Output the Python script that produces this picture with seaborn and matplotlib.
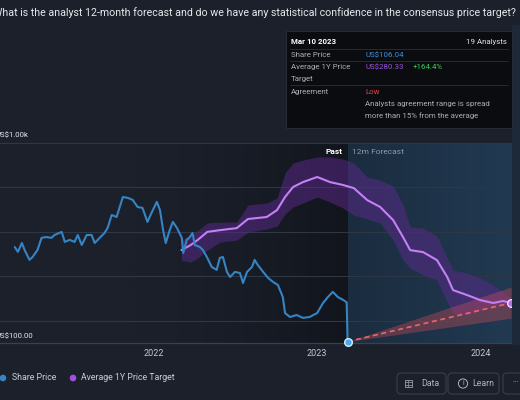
import numpy as np
import pandas as pd
import seaborn as sns
import matplotlib.pyplot as plt
from matplotlib.patches import FancyBboxPatch, Rectangle, Circle

# share price history
price_dates = ["2021-02-23", "2021-03-02", "2021-03-11", "2021-03-17", "2021-03-28", "2021-04-04",
               "2021-04-15", "2021-04-24", "2021-05-05", "2021-05-16", "2021-05-23", "2021-06-08",
               "2021-06-15", "2021-06-26", "2021-07-07", "2021-07-14", "2021-07-23", "2021-08-03",
               "2021-08-14", "2021-08-21", "2021-09-01", "2021-09-12", "2021-09-19", "2021-09-28",
               "2021-10-09", "2021-10-16", "2021-10-23", "2021-11-03", "2021-11-14", "2021-11-25",
               "2021-12-06", "2021-12-17", "2021-12-26", "2022-01-07", "2022-01-14", "2022-01-21",
               "2022-01-27", "2022-02-05", "2022-02-12", "2022-02-21", "2022-03-04", "2022-03-07",
               "2022-03-15", "2022-03-22", "2022-03-28", "2022-04-02", "2022-04-13", "2022-04-20",
               "2022-04-29", "2022-05-10", "2022-05-21", "2022-05-28", "2022-06-04", "2022-06-13",
               "2022-06-20", "2022-07-01", "2022-07-12", "2022-07-19", "2022-07-28", "2022-08-08",
               "2022-08-14", "2022-08-21", "2022-09-02", "2022-09-13", "2022-09-24", "2022-10-05",
               "2022-10-16", "2022-10-21", "2022-11-01", "2022-11-16", "2022-11-30", "2022-12-15",
               "2023-01-01", "2023-01-14", "2023-01-25", "2023-02-05", "2023-02-16", "2023-02-28",
               "2023-03-08", "2023-03-10"]
price_values = [532, 510, 550, 519, 474, 487, 519, 573, 577, 573, 586, 600,
                555, 564, 555, 586, 541, 586, 586, 550, 573, 595, 618, 676,
                667, 712, 757, 753, 744, 712, 708, 645, 685, 735, 699, 609,
                550, 609, 645, 618, 573, 505, 564, 577, 595, 541, 532, 519,
                487, 442, 429, 483, 487, 420, 397, 420, 415, 370, 420, 442,
                474, 451, 420, 393, 375, 361, 307, 235, 217, 226, 213, 217,
                235, 280, 307, 330, 307, 294, 283, 106.04]

# average 1Y price target, plotted 12 months ahead
target_dates = ["2022-03-03", "2022-03-24", "2022-04-08", "2022-04-30", "2022-05-29", "2022-07-05",
                "2022-07-30", "2022-09-10", "2022-10-03", "2022-10-21", "2022-11-08", "2022-11-30",
                "2023-01-01", "2023-01-30", "2023-02-28", "2023-03-24", "2023-04-23", "2023-05-22",
                "2023-06-20", "2023-07-12", "2023-07-28", "2023-08-26", "2023-09-26", "2023-10-19",
                "2023-11-01", "2023-12-02", "2024-01-01", "2024-01-30", "2024-02-21", "2024-03-10"]
target_avg = [518, 541, 563, 600, 608, 617, 658, 667, 698, 757, 802, 824,
              847, 824, 811, 797, 743, 712, 653, 577, 518, 509, 473, 397,
              338, 316, 293, 280, 289, 280.33]
target_high = [563, 586, 604, 640, 644, 644, 721, 730, 752, 865, 910, 923,
               937, 937, 928, 910, 847, 833, 806, 721, 622, 617, 581, 482,
               428, 415, 392, 361, 329, 302]
target_low = [473, 464, 482, 518, 554, 563, 599, 613, 626, 680, 712, 730,
              757, 734, 707, 676, 658, 640, 563, 473, 437, 406, 383, 284,
              235, 226, 248, 262, 271, 271]

# 12m forecast cone
cone_dates = ["2023-03-10", "2024-03-10"]
cone_mid = [106.04, 280.33]
cone_high = [106.04, 352]
cone_low = [106.04, 212]

year_ticks = ["2022-01-01", "2023-01-01", "2024-01-01"]
year_labels = ["2022", "2023", "2024"]
grid_levels = [200, 400, 600, 800, 1000]

BG = "#1b202b"
BLUE = "#3584c4"
PURPLE = "#c57ff7"

price = pd.DataFrame({"date": pd.to_datetime(price_dates), "value": price_values})
target = pd.DataFrame({"date": pd.to_datetime(target_dates), "avg": target_avg,
                       "high": target_high, "low": target_low})
cone = pd.DataFrame({"date": pd.to_datetime(cone_dates), "mid": cone_mid,
                     "high": cone_high, "low": cone_low})

sns.set_theme(style="dark", rc={"figure.facecolor": BG, "axes.facecolor": BG})
plt.rcParams["font.family"] = ["Roboto", "DejaVu Sans"]

fig = plt.figure(figsize=(5.2, 4.0), dpi=100)
ax = fig.add_axes([0, 57 / 400, 512 / 520, 200 / 400])
ax.set_facecolor(BG)

x0, x1 = pd.Timestamp("2021-01-21"), pd.Timestamp("2024-03-12")
split = pd.Timestamp("2023-03-10")

# background shading: darkening towards "Past", blue forecast region
grad = np.linspace(0, 1, 200)[None, :] ** 1.6
past_cmap = sns.blend_palette(["#1b202b", "#12151c"], as_cmap=True)
ax.imshow(grad, extent=[pd.Timestamp("2021-11-01"), split, 100, 1000], aspect="auto",
          cmap=past_cmap, zorder=0)
fc_cmap = sns.blend_palette(["#1b2c3f", "#213a52"], as_cmap=True)
ax.imshow(np.linspace(0, 1, 200)[None, :], extent=[split, x1, 100, 1000], aspect="auto",
          cmap=fc_cmap, zorder=0)
ax.set_xlim(x0, x1)
ax.set_ylim(100, 1000)

for lv in grid_levels:
    ax.axhline(lv, color="#2f3644", lw=0.8, zorder=1, clip_on=False)

# analyst target band + line
ax.fill_between(target["date"], target["low"], target["high"], color="#5b2a8c",
                alpha=0.52, lw=0, zorder=2)
ax.fill_between(cone["date"], cone["low"], cone["high"], color="#d9505a",
                alpha=0.35, lw=0, zorder=2)
sns.lineplot(data=target, x="date", y="avg", ax=ax, color=PURPLE, lw=1.5, zorder=4,
             solid_joinstyle="round", solid_capstyle="round")
sns.lineplot(data=price, x="date", y="value", ax=ax, color=BLUE, lw=1.5, zorder=4)
sns.lineplot(data=cone, x="date", y="mid", ax=ax, color="#f0646a", lw=1.2,
             zorder=4).lines[-1].set_dashes([3, 2.2])

ax.plot(price["date"].iloc[-1], price["value"].iloc[-1], "o", ms=5.5,
        mfc="#4fa6ea", mec="#d6ecfb", mew=1.0, zorder=6, clip_on=False)
ax.plot(target["date"].iloc[-1], target["avg"].iloc[-1], "o", ms=5.5,
        mfc="#b86cf2", mec="#f1dcff", mew=1.0, zorder=6, clip_on=False)

ax.set_xticks(pd.to_datetime(year_ticks))
ax.set_xticklabels(year_labels, color="#c3c7cf", fontsize=6.5)
ax.tick_params(axis="x", length=0, pad=4)
ax.set_yticks([])
ax.set_xlabel("")
ax.set_ylabel("")
for s in ["top", "left", "right"]:
    ax.spines[s].set_visible(False)
ax.spines["bottom"].set_color("#3a414e")
ax.spines["bottom"].set_linewidth(0.9)
ax.grid(False)

# overlay in pixel coordinates for the surrounding widgets
ov = fig.add_axes([0, 0, 1, 1], zorder=5)
ov.set_xlim(0, 520)
ov.set_ylim(400, 0)
ov.axis("off")
ov.patch.set_alpha(0)

ov.add_patch(Rectangle((512, 25), 8, 320, color="#1d2838", lw=0))

ov.text(516, 13, "What is the analyst 12-month forecast and do we have any statistical "
        "confidence in the consensus price target?", ha="right", va="center",
        fontsize=7.7, color="#e6e8ec")

# tooltip box
ov.add_patch(Rectangle((286, 31), 226, 97, facecolor="#0b0c10", edgecolor="#2a2f3a", lw=0.6))
for yy in [49, 61, 85]:
    ov.plot([290, 508], [yy, yy], color="#2b2f38", lw=0.6)
tip = dict(fontsize=5.7, va="center")
ov.text(291, 42, "Mar 10 2023", color="white", fontweight="bold", **tip)
ov.text(507, 42, "19 Analysts", color="#e0e0e0", ha="right", **tip)
ov.text(291, 55, "Share Price", color="#a9adb5", **tip)
ov.text(365, 55, "US$106.04", color="#3d8fdb", **tip)
ov.text(291, 67, "Average 1Y Price", color="#a9adb5", **tip)
ov.text(291, 79, "Target", color="#a9adb5", **tip)
ov.text(365, 67, "US$280.33", color="#9b4fe0", **tip)
ov.text(413, 67, "+164.4%", color="#3fc65f", **tip)
ov.text(291, 92, "Agreement", color="#a9adb5", **tip)
ov.text(365, 92, "Low", color="#e0484b", **tip)
ov.text(365, 104, "Analysts agreement range is spread", color="#a9adb5", **tip)
ov.text(365, 116, "more than 15% from the average", color="#a9adb5", **tip)

# price axis labels
ov.text(-4, 135, "US$1.00k", color="#e4e6ea", fontsize=5.6, va="center")
ov.text(-4, 336, "US$100.00", color="#e4e6ea", fontsize=5.6, va="center")

ov.text(342, 152, "Past", color="white", fontweight="bold", fontsize=6, ha="right", va="center")
ov.text(352, 152, "12m Forecast", color="#8d99a8", fontsize=6, va="center")

# legend
ov.add_patch(Circle((3, 378), 2.6, color=BLUE))
ov.text(12, 378, "Share Price", color="#c9ccd3", fontsize=6.3, va="center")
ov.add_patch(Circle((73, 378), 2.6, color="#a44ee6"))
ov.text(81, 378, "Average 1Y Price Target", color="#c9ccd3", fontsize=6.3, va="center")

# buttons
for bx, bw in [(397, 49), (448, 51), (503, 30)]:
    ov.add_patch(FancyBboxPatch((bx, 373), bw, 21, boxstyle="round,pad=0,rounding_size=4",
                                facecolor=BG, edgecolor="#353b48", lw=0.9))
ov.add_patch(Rectangle((405, 380), 7, 7, fill=False, edgecolor="#8a909b", lw=0.7))
for yy in [382.3, 384.6]:
    ov.plot([405, 412], [yy, yy], color="#8a909b", lw=0.6)
ov.plot([407.5, 407.5], [380, 387], color="#8a909b", lw=0.6)
ov.text(421, 383.5, "Data", color="#aeb3bc", fontsize=6.3, va="center")
ov.add_patch(Circle((463, 383.5), 4.6, fill=False, edgecolor="#aeb3bc", lw=0.7))
ov.text(463, 383.8, "i", color="#aeb3bc", fontsize=5, ha="center", va="center")
ov.text(472, 383.5, "Learn", color="#aeb3bc", fontsize=6.3, va="center")
ov.text(512, 383, "···", color="#aeb3bc", fontsize=6.3, va="center")

fig.savefig("out.png", dpi=100, facecolor=BG)
